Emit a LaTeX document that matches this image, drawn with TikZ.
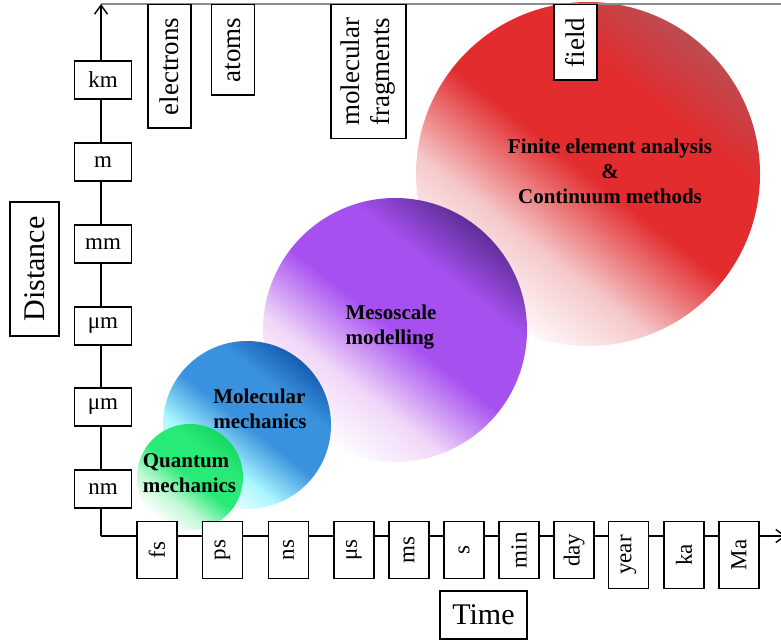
\documentclass[tikz,border=0pt]{standalone}
\usepackage{fontspec}
\setmainfont{Liberation Serif}
\usetikzlibrary{arrows.meta}
\definecolor{femdark}{RGB}{188,76,82}
\definecolor{femmid}{RGB}{226,44,46}
\definecolor{femlight}{RGB}{245,200,202}
\definecolor{mesodark}{RGB}{95,46,150}
\definecolor{mesomid}{RGB}{166,80,240}
\definecolor{mesolight}{RGB}{240,215,248}
\definecolor{mmdark}{RGB}{22,92,178}
\definecolor{mmmid}{RGB}{58,146,222}
\definecolor{mmlight}{RGB}{170,248,255}
\definecolor{qmdark}{RGB}{22,214,100}
\definecolor{qmmid}{RGB}{40,234,118}
\definecolor{qmlight}{RGB}{190,248,212}
\pgfdeclareverticalshading[balllight,ballmid,balldark]{sphereshade}{100bp}{
  color(0bp)=(white); color(25bp)=(white); color(37bp)=(balllight);
  color(50bp)=(ballmid); color(64bp)=(ballmid); color(75bp)=(balldark);
  color(100bp)=(balldark)}
\tikzset{
  sphere/.style={shading=sphereshade,shading angle=-38,
    /utils/exec={\colorlet{balllight}{#1light}\colorlet{ballmid}{#1mid}\colorlet{balldark}{#1dark}}},
  axis/.style={line width=1.4pt,-{Straight Barb[length=9pt,width=13pt]}},
  rimline/.style={line width=1.8pt,draw=black!45},
  unitbox/.style={draw,fill=white,line width=1.2pt,inner sep=0pt,
    font=\fontsize{23}{26}\selectfont},
  dunit/.style={unitbox,minimum width=57pt,minimum height=38pt},
  tunit/.style={unitbox,rotate=90,anchor=east,minimum height=40pt},
  tag/.style={draw,fill=white,line width=1.2pt,rotate=90,anchor=east,
    inner xsep=13pt,inner ysep=6pt,minimum height=43pt,
    font=\fontsize{27}{30}\selectfont},
  title/.style={draw,fill=white,line width=1.2pt,inner sep=0pt,
    font=\fontsize{30}{32}\selectfont},
  method/.style={font=\bfseries\fontsize{21}{25}\selectfont,align=left},
}
\begin{document}
\begin{tikzpicture}[x=1pt,y=-1pt]
  \useasboundingbox (0,0) rectangle (781,643);
  % spheres, back to front
  \shade[sphere=fem] (588,174) circle[radius=172pt];
  \shade[sphere=meso] (395,330) circle[radius=132pt];
  \shade[sphere=mm] (247,425) circle[radius=84pt];
  \shade[sphere=qm] (190,477) circle[radius=53pt];

  \coordinate (origin) at (101,536);
  \coordinate (dtop) at (101,4);
  \coordinate (tend) at (786,536);
  \coordinate (rim) at (781,4);
  \draw[rimline] (dtop) -- (rim);
  \draw[axis] (origin) -- (dtop);
  \draw[axis] (origin) -- (tend);

  \foreach \y/\l [count=\i] in {489/nm,407/μm,326/μm,244/mm,162/m,80/km}
    \node[dunit] (d\i) at (103,\y) {\l};
  \foreach \x/\l/\w [count=\i] in {157/fs/57,222.5/ps/57,288.5/ns/57,354/μs/57,
      409/ms/57,464/s/57,519/min/57,574/day/57,628.5/year/67,684/ka/67,739/Ma/67}
    \node[tunit,minimum width=\w pt] (t\i) at (\x,521) {\l};

  \node[tag] (electrons) at (169.5,4) {electrons};
  \node[tag] (atoms) at (233,4) {atoms};
  \node[tag,align=center,minimum height=75pt] (fragments) at (368.5,4) {molecular\\fragments};
  \node[tag] (field) at (575.5,4) {field};

  \node[title,rotate=90,minimum width=134pt,minimum height=49pt] (distance) at (34.5,269) {Distance};
  \node[title,minimum width=87pt,minimum height=48pt] (time) at (483.5,615) {Time};

  \node[method,align=center] (fea) at (610,171) {Finite element analysis\\\&\\Continuum methods};
  \node[method] (meso) at (391,327) {Mesoscale\\modelling};
  \node[method] (mm) at (260,409) {Molecular\\mechanics};
  \node[method] (qm) at (189.5,473) {Quantum\\mechanics};
\end{tikzpicture}
\end{document}
